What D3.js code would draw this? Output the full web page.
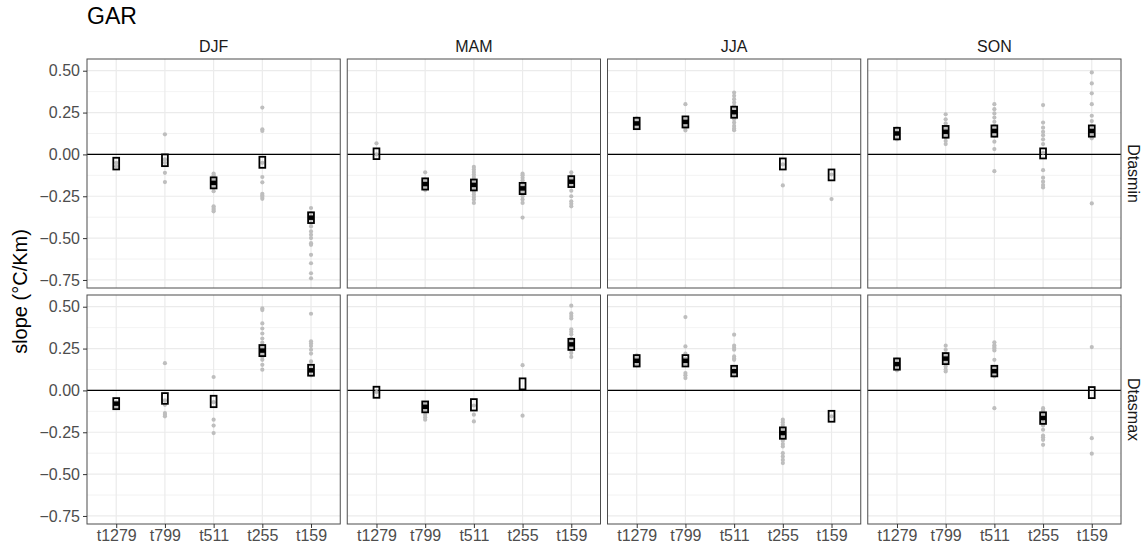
<!DOCTYPE html>
<html>
<head>
<meta charset="utf-8">
<script src="https://cdn.jsdelivr.net/npm/d3@7"></script>
<style>
  body { margin: 0; background: #fff; }
  text { font-family: "Liberation Sans", Arial, sans-serif; }
</style>
</head>
<body>
<div id="chart"></div>
<script>
const resolutions = ["t1279", "t799", "t511", "t255", "t159"];
const seasons = ["DJF", "MAM", "JJA", "SON"];
const variables = ["Dtasmin", "Dtasmax"];
const yTicks = [-0.75, -0.5, -0.25, 0, 0.25, 0.5];

// gray points, one list per resolution
const ptsMinDJF = [[-0.05, -0.07], [0.12, -0.03, -0.05, -0.11, -0.165],
  [-0.114, -0.125, -0.134, -0.15, -0.163, -0.18, -0.2, -0.22, -0.31, -0.32, -0.33, -0.34],
  [0.28, 0.15, 0.14, -0.05, -0.135, -0.167, -0.235, -0.245, -0.255, -0.265],
  [-0.32, -0.35, -0.37, -0.39, -0.41, -0.43, -0.46, -0.48, -0.5, -0.53, -0.54, -0.6, -0.65, -0.71, -0.74]];
const ptsMinMAM = [[0.066, 0.0], [-0.107, -0.15, -0.165, -0.18, -0.195, -0.205, -0.213],
  [-0.075, -0.09, -0.105, -0.12, -0.135, -0.15, -0.165, -0.18, -0.195, -0.21, -0.225, -0.24, -0.255, -0.27, -0.29],
  [-0.115, -0.125, -0.14, -0.155, -0.17, -0.19, -0.21, -0.23, -0.25, -0.27, -0.29, -0.377],
  [-0.107, -0.13, -0.15, -0.17, -0.19, -0.217, -0.25, -0.28, -0.295, -0.31]];
const ptsMinJJA = [[0.16, 0.175, 0.19, 0.2, 0.215], [0.3, 0.21, 0.19, 0.17, 0.155, 0.143],
  [0.37, 0.35, 0.33, 0.31, 0.29, 0.27, 0.25, 0.23, 0.21, 0.19, 0.17, 0.155, 0.145],
  [-0.06, -0.185], [-0.12, -0.267]];
const ptsMinSON = [[0.09, 0.1, 0.12, 0.14, 0.155], [0.24, 0.21, 0.185, 0.16, 0.14, 0.12, 0.1, 0.08, 0.062],
  [0.3, 0.27, 0.245, 0.22, 0.195, 0.17, 0.15, 0.13, 0.11, 0.076, 0.032, -0.1],
  [0.295, 0.19, 0.16, 0.135, 0.115, 0.09, 0.062, 0.01, -0.094, -0.139, -0.163, -0.183, -0.197],
  [0.49, 0.424, 0.365, 0.3, 0.231, 0.199, 0.17, 0.15, 0.12, 0.096, -0.293]];
const ptsMaxDJF = [[-0.07, -0.09, -0.1], [0.163, -0.06, -0.086, -0.135, -0.145, -0.155],
  [0.08, -0.07, -0.175, -0.21, -0.255],
  [0.49, 0.48, 0.4, 0.37, 0.34, 0.31, 0.285, 0.26, 0.24, 0.22, 0.2, 0.183, 0.153, 0.124],
  [0.458, 0.293, 0.28, 0.265, 0.243, 0.22, 0.173, 0.15, 0.13, 0.11, 0.09]];
const ptsMaxMAM = [[-0.01], [-0.08, -0.1, -0.12, -0.145, -0.16, -0.175], [-0.09, -0.145, -0.185],
  [0.151, -0.151],
  [0.506, 0.46, 0.445, 0.43, 0.365, 0.35, 0.335, 0.31, 0.29, 0.27, 0.255, 0.24, 0.223, 0.2]];
const ptsMaxJJA = [[0.15, 0.17, 0.19, 0.21], [0.438, 0.263, 0.22, 0.19, 0.16, 0.104, 0.09, 0.074],
  [0.333, 0.267, 0.255, 0.243, 0.203, 0.19, 0.183, 0.14, 0.11, 0.09],
  [-0.175, -0.19, -0.205, -0.22, -0.24, -0.26, -0.28, -0.3, -0.32, -0.335, -0.375, -0.395, -0.415, -0.434],
  [-0.155]];
const ptsMaxSON = [[0.12, 0.13, 0.15, 0.17, 0.185], [0.267, 0.243, 0.22, 0.2, 0.18, 0.16, 0.143, 0.125, 0.113],
  [0.287, 0.27, 0.26, 0.25, 0.239, 0.183, 0.14, 0.12, 0.1, 0.084, -0.106],
  [-0.106, -0.12, -0.135, -0.15, -0.17, -0.19, -0.21, -0.235, -0.27, -0.28, -0.295, -0.325],
  [0.259, -0.285, -0.378]];

// crossbars [low, mid, high] per resolution
const boxMinDJF = [[-0.09, -0.055, -0.02], [-0.07, -0.035, 0.0], [-0.203, -0.17, -0.137], [-0.08, -0.047, -0.014], [-0.41, -0.378, -0.346]];
const boxMinMAM = [[-0.028, 0.004, 0.036], [-0.21, -0.177, -0.143], [-0.215, -0.182, -0.15], [-0.237, -0.203, -0.17], [-0.195, -0.163, -0.13]];
const boxMinJJA = [[0.151, 0.185, 0.219], [0.161, 0.194, 0.227], [0.219, 0.252, 0.285], [-0.09, -0.057, -0.024], [-0.155, -0.122, -0.09]];
const boxMinSON = [[0.09, 0.125, 0.159], [0.1, 0.135, 0.17], [0.106, 0.14, 0.173], [-0.024, 0.006, 0.036], [0.106, 0.14, 0.173]];
const boxMaxDJF = [[-0.112, -0.079, -0.046], [-0.08, -0.048, -0.016], [-0.1, -0.066, -0.032], [0.205, 0.238, 0.271], [0.088, 0.12, 0.153]];
const boxMaxMAM = [[-0.044, -0.011, 0.022], [-0.131, -0.098, -0.066], [-0.12, -0.086, -0.052], [0.006, 0.039, 0.072], [0.242, 0.275, 0.308]];
const boxMaxJJA = [[0.143, 0.177, 0.211], [0.143, 0.177, 0.211], [0.084, 0.115, 0.147], [-0.289, -0.255, -0.221], [-0.187, -0.155, -0.122]];
const boxMaxSON = [[0.124, 0.157, 0.191], [0.157, 0.19, 0.223], [0.084, 0.115, 0.147], [-0.2, -0.165, -0.131], [-0.046, -0.013, 0.02]];

// 1 = filled (significant) crossbar
const sigMinDJF = [0, 0, 1, 0, 1];
const sigMinMAM = [0, 1, 1, 1, 1];
const sigMinJJA = [1, 1, 1, 0, 0];
const sigMinSON = [1, 1, 1, 0, 1];
const sigMaxDJF = [1, 0, 0, 1, 1];
const sigMaxMAM = [0, 1, 0, 0, 1];
const sigMaxJJA = [1, 1, 1, 1, 0];
const sigMaxSON = [1, 1, 1, 1, 0];

const panelData = {
  Dtasmin: { DJF: [ptsMinDJF, boxMinDJF, sigMinDJF], MAM: [ptsMinMAM, boxMinMAM, sigMinMAM],
             JJA: [ptsMinJJA, boxMinJJA, sigMinJJA], SON: [ptsMinSON, boxMinSON, sigMinSON] },
  Dtasmax: { DJF: [ptsMaxDJF, boxMaxDJF, sigMaxDJF], MAM: [ptsMaxMAM, boxMaxMAM, sigMaxMAM],
             JJA: [ptsMaxJJA, boxMaxJJA, sigMaxJJA], SON: [ptsMaxSON, boxMaxSON, sigMaxSON] }
};

const width = 1148, height = 553;
const mLeft = 87, mRight = 1121, mTop = 59, gap = 7;
const pw = (mRight - mLeft - gap * 3) / 4;
const ph = 229;

const svg = d3.select("#chart").append("svg")
  .attr("width", width).attr("height", height);

const x = d3.scalePoint().domain(resolutions).range([0, pw]).padding(0.6);
const y = d3.scaleLinear().domain([-0.798, 0.57]).range([ph, 0]);
const minor = d3.pairs(yTicks).map(p => (p[0] + p[1]) / 2);
const boxW = x.step() * 0.12;

svg.append("text").attr("x", mLeft).attr("y", 24)
  .attr("font-size", 23).attr("fill", "#000").text("GAR");

svg.append("text")
  .attr("transform", `translate(20, ${mTop + ph + gap / 2}) rotate(-90)`)
  .attr("text-anchor", "middle").attr("dominant-baseline", "central")
  .attr("font-size", 20).attr("fill", "#000")
  .text("slope  (°C/Km)");

variables.forEach((v, r) => {
  seasons.forEach((s, c) => {
    const px = mLeft + c * (pw + gap);
    const py = mTop + r * (ph + gap);
    const g = svg.append("g").attr("transform", `translate(${px},${py})`);
    const [pts, boxes, sig] = panelData[v][s];

    g.selectAll(".minor").data(minor).enter().append("line")
      .attr("x1", 0).attr("x2", pw).attr("y1", d => y(d)).attr("y2", d => y(d))
      .attr("stroke", "#ebebeb").attr("stroke-width", 0.6);
    g.selectAll(".major").data(yTicks).enter().append("line")
      .attr("x1", 0).attr("x2", pw).attr("y1", d => y(d)).attr("y2", d => y(d))
      .attr("stroke", "#ebebeb").attr("stroke-width", 1.2);
    g.selectAll(".vgrid").data(resolutions).enter().append("line")
      .attr("x1", d => x(d)).attr("x2", d => x(d)).attr("y1", 0).attr("y2", ph)
      .attr("stroke", "#ebebeb").attr("stroke-width", 1.2);

    g.append("line").attr("x1", 0).attr("x2", pw).attr("y1", y(0)).attr("y2", y(0))
      .attr("stroke", "#000").attr("stroke-width", 1.1);

    const flat = pts.flatMap((arr, i) => arr.map(val => ({ res: resolutions[i], val })));
    g.selectAll(".pt").data(flat).enter().append("circle")
      .attr("cx", d => x(d.res)).attr("cy", d => y(d.val)).attr("r", 2.1)
      .attr("fill", "#bebebe");

    const bx = boxes.map((b, i) => ({ res: resolutions[i], lo: b[0], mid: b[1], hi: b[2], sig: sig[i] }));
    const bg = g.selectAll(".box").data(bx).enter().append("g");
    bg.append("rect")
      .attr("x", d => x(d.res) - boxW / 2).attr("width", boxW)
      .attr("y", d => y(d.hi)).attr("height", d => y(d.lo) - y(d.hi))
      .attr("fill", "none").attr("stroke", "#000").attr("stroke-width", 1.8);
    bg.filter(d => d.sig).append("line")
      .attr("x1", d => x(d.res) - boxW / 2).attr("x2", d => x(d.res) + boxW / 2)
      .attr("y1", d => y(d.mid)).attr("y2", d => y(d.mid))
      .attr("stroke", "#000").attr("stroke-width", 4.5);

    g.append("rect").attr("width", pw).attr("height", ph)
      .attr("fill", "none").attr("stroke", "#4d4d4d").attr("stroke-width", 1);

    if (c === 0) {
      const ya = g.append("g").call(d3.axisLeft(y).tickValues(yTicks).tickSize(4)
        .tickFormat(d => d3.format(".2f")(d).replace("-", "\u2212")));
      ya.select(".domain").remove();
      ya.selectAll("line").attr("stroke", "#333");
      ya.selectAll("text").attr("font-size", 16).attr("fill", "#4d4d4d")
        .attr("font-family", "Liberation Sans, Arial, sans-serif").attr("x", -7);
    }
    if (r === variables.length - 1) {
      const xa = g.append("g").attr("transform", `translate(0,${ph})`)
        .call(d3.axisBottom(x).tickSize(4));
      xa.select(".domain").remove();
      xa.selectAll("line").attr("stroke", "#333");
      xa.selectAll("text").attr("font-size", 16).attr("fill", "#4d4d4d")
        .attr("font-family", "Liberation Sans, Arial, sans-serif").attr("y", 6);
    }
    if (r === 0) {
      g.append("text").attr("x", pw / 2).attr("y", -7).attr("text-anchor", "middle")
        .attr("font-size", 16).attr("fill", "#1a1a1a").text(s);
    }
    if (c === seasons.length - 1) {
      g.append("text")
        .attr("transform", `translate(${pw + 12}, ${ph / 2}) rotate(90)`)
        .attr("text-anchor", "middle").attr("dominant-baseline", "central")
        .attr("font-size", 16).attr("fill", "#1a1a1a").text(v);
    }
  });
});
</script>
</body>
</html>
